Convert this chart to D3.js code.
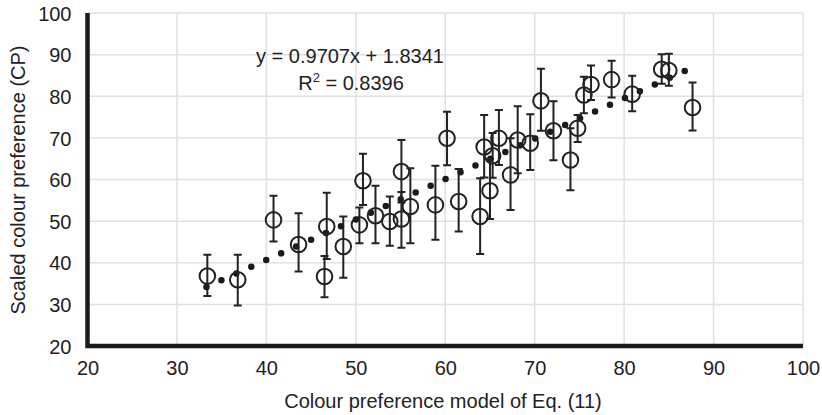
<!DOCTYPE html>
<html>
<head>
<meta charset="utf-8">
<script src="https://cdn.jsdelivr.net/npm/d3@7"></script>
<style>
  html, body { margin: 0; padding: 0; background: #fff; }
  text { font-family: "Liberation Sans", Arial, sans-serif; fill: #222; }
</style>
</head>
<body>
<svg id="chart" width="822" height="415"></svg>
<script>
// ---- data ----
const modelX = [33.4, 36.8, 40.8, 43.6, 46.75, 46.5, 48.6, 50.8, 50.4, 52.2, 53.8, 55.1, 55.1, 56.1, 58.9, 60.2, 61.5, 63.9,
                64.35, 65.3, 65.0, 66.0, 67.3, 68.1, 69.5, 70.7, 72.1, 74.0, 74.8, 75.5, 76.3, 78.6, 80.9, 84.2, 85.0, 87.65];
const scaledCP = [36.8, 35.9, 50.3, 44.4, 48.7, 36.7, 43.9, 59.7, 49.1, 51.3, 49.9, 61.9, 50.5, 53.5, 53.9, 69.9, 54.7, 51.1,
                  67.8, 65.7, 57.3, 69.9, 61.1, 69.5, 68.7, 78.9, 71.7, 64.7, 72.3, 80.3, 82.8, 84.0, 80.5, 86.5, 86.2, 77.3];
const errUpper = [41.9, 41.9, 56.1, 51.9, 56.8, 41.6, 51.1, 66.2, 53.3, 58.5, 55.9, 69.5, 57.0, 62.7, 63.3, 76.3, 62.5, 60.3,
                  75.5, 71.2, 65.0, 76.7, 69.9, 77.6, 75.7, 86.6, 78.8, 72.3, 75.5, 84.7, 87.4, 88.5, 84.9, 90.1, 90.2, 83.3];
const errLower = [32.0, 29.7, 45.1, 37.9, 40.9, 31.7, 36.4, 53.9, 44.7, 44.7, 44.1, 54.5, 43.6, 44.7, 45.5, 63.4, 47.5, 42.1,
                  60.5, 60.4, 50.5, 63.5, 52.7, 61.5, 62.3, 71.7, 64.6, 57.4, 69.0, 75.9, 79.1, 79.7, 76.4, 83.0, 82.5, 71.8];
const xTicks = [20, 30, 40, 50, 60, 70, 80, 90, 100];
const yTicks = [20, 30, 40, 50, 60, 70, 80, 90, 100];
const slope = 0.9707, intercept = 1.8341, r2 = 0.8396;
const fitRange = [33.3, 87.6];
const xTitle = "Colour preference model of Eq. (11)";
const yTitle = "Scaled colour preference (CP)";

// ---- drawing ----
const svg = d3.select("#chart");
const x = d3.scaleLinear().domain([20, 100]).range([87.5, 803]);
const y = d3.scaleLinear().domain([20, 100]).range([346, 13]);

// grid
const grid = svg.append("g");
grid.selectAll("line.gx").data(xTicks.slice(1)).enter().append("line")
  .attr("x1", d => x(d)).attr("x2", d => x(d))
  .attr("y1", y(20)).attr("y2", y(100))
  .attr("stroke", "#e0e0e0").attr("stroke-width", 1.5);
grid.selectAll("line.gy").data(yTicks.slice(1)).enter().append("line")
  .attr("x1", x(20)).attr("x2", x(100))
  .attr("y1", d => y(d)).attr("y2", d => y(d))
  .attr("stroke", "#e0e0e0").attr("stroke-width", 1.5);

// axes (labels via d3 axes, no tick marks)
const xAxis = d3.axisBottom(x).tickValues(xTicks).tickSize(0).tickPadding(0);
const gx = svg.append("g").attr("transform", `translate(0,${y(20)})`).call(xAxis);
gx.select(".domain").remove();
gx.selectAll("text").attr("dy", null).attr("y", 29).attr("font-size", 20)
  .style("font-family", '"Liberation Sans", Arial, sans-serif').attr("fill", "#222");

const yAxis = d3.axisLeft(y).tickValues(yTicks).tickSize(0).tickPadding(0);
const gy = svg.append("g").attr("transform", `translate(${x(20)},0)`).call(yAxis);
gy.select(".domain").remove();
gy.selectAll("text").attr("x", -16).attr("dy", "0.36em").attr("font-size", 20)
  .style("font-family", '"Liberation Sans", Arial, sans-serif').attr("fill", "#222");

// thick axis lines
svg.append("path")
  .attr("d", `M${x(20)},${y(100)}V${y(20)}H${x(100)}`)
  .attr("fill", "none").attr("stroke", "#1a1a1a").attr("stroke-width", 4.5)
  .attr("stroke-linejoin", "miter");

// trend line (dotted)
svg.append("line")
  .attr("x1", x(fitRange[0])).attr("y1", y(slope * fitRange[0] + intercept))
  .attr("x2", x(fitRange[1])).attr("y2", y(slope * fitRange[1] + intercept))
  .attr("stroke", "#1a1a1a").attr("stroke-width", 6.5)
  .attr("stroke-linecap", "round").attr("stroke-dasharray", "0 16.4");

// error bars
const pts = modelX.map((v, i) => ({ x: v, y: scaledCP[i], hi: errUpper[i], lo: errLower[i] }));
const eb = svg.append("g").attr("stroke", "#222").attr("stroke-width", 2).attr("fill", "none");
eb.selectAll("path").data(pts).enter().append("path")
  .attr("d", d => {
    const cx = x(d.x), t = y(d.hi), b = y(d.lo), w = 4;
    return `M${cx},${t}V${b}M${cx - w},${t}H${cx + w}M${cx - w},${b}H${cx + w}`;
  });

// circles
svg.append("g").selectAll("circle").data(pts).enter().append("circle")
  .attr("cx", d => x(d.x)).attr("cy", d => y(d.y)).attr("r", 7.8)
  .attr("fill", "none").attr("stroke", "#222").attr("stroke-width", 2);

// equation
svg.append("text").attr("x", 350).attr("y", 63).attr("text-anchor", "middle")
  .attr("font-size", 20).text(`y = ${slope}x + ${intercept}`);
const rt = svg.append("text").attr("x", 351).attr("y", 90).attr("text-anchor", "middle").attr("font-size", 20);
rt.append("tspan").text("R");
rt.append("tspan").attr("font-size", 13).attr("dy", -8).text("2");
rt.append("tspan").attr("dy", 8).text(` = ${r2}`);

// axis titles
svg.append("text").attr("x", 443).attr("y", 408).attr("text-anchor", "middle")
  .attr("font-size", 20).text(xTitle);
svg.append("text").attr("transform", `translate(25,180) rotate(-90)`)
  .attr("text-anchor", "middle").attr("font-size", 20).text(yTitle);
</script>
</body>
</html>
